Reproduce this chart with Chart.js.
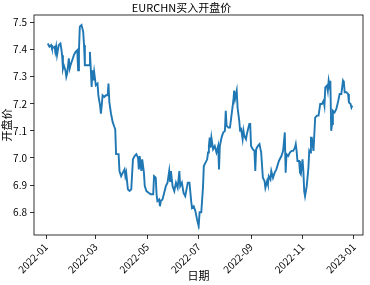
<!DOCTYPE html>
<html lang="zh">
<head>
    <meta charset="UTF-8">
    <title>EURCHN买入开盘价</title>
    <script src="https://cdn.jsdelivr.net/npm/chart.js"></script>
    <style>
        body {
            margin: 0;
            background-color: white;
        }
    </style>
</head>
<body>
    <canvas id="rateChart" width="370" height="285"></canvas>

    <script>
        // 日期: 2022-01-01 起的天数
        const days = [
            2, 4, 6, 7, 10, 11, 12, 13, 15, 17, 18, 19, 20, 21, 23, 24, 25, 27, 28, 29,
            31, 33, 35, 37, 38, 39, 40, 42, 44, 45, 46, 49, 51, 52, 53, 54, 55, 56, 57, 59,
            61, 62, 64, 65, 66, 67, 69, 71, 73, 74, 75, 77, 79, 81, 82, 83, 86, 87, 89, 91,
            93, 94, 95, 97, 99, 101, 103, 105, 107, 109, 110, 111, 113, 114, 116, 117, 119, 122, 124, 127,
            128, 130, 131, 132, 134, 135, 136, 138, 140, 142, 144, 146, 147, 148, 150, 152, 154, 156, 158, 159,
            161, 163, 165, 168, 170, 172, 173, 175, 177, 179, 180, 181, 182, 184, 186, 187, 189, 191, 192, 193,
            194, 195, 196, 198, 200, 202, 204, 205, 206, 208, 210, 212, 213, 214, 216, 218, 220, 222, 223, 224,
            226, 227, 229, 230, 231, 233, 234, 235, 237, 238, 239, 241, 242, 243, 245, 247, 248, 249, 251, 253,
            255, 257, 259, 260, 262, 263, 264, 266, 267, 269, 271, 273, 276, 279, 281, 283, 284, 285, 287, 289,
            291, 293, 295, 296, 297, 298, 300, 301, 302, 304, 305, 306, 307, 309, 311, 312, 313, 314, 315, 317,
            319, 321, 323, 325, 327, 329, 330, 331, 333, 334, 335, 336, 337, 338, 339, 340, 342, 344, 346, 348,
            350, 352, 353, 354, 356, 358, 359, 361, 362, 363
        ];
        const openPrice = [
            7.422, 7.410, 7.416, 7.404, 7.410, 7.391, 7.410, 7.379, 7.416, 7.422, 7.404, 7.379, 7.330, 7.342, 7.323, 7.299, 7.311, 7.367, 7.330, 7.342,
            7.360, 7.379, 7.391, 7.397, 7.323, 7.397, 7.484, 7.490, 7.466, 7.416, 7.342, 7.342, 7.342, 7.391, 7.330, 7.262, 7.323, 7.286, 7.317, 7.268,
            7.274, 7.231, 7.194, 7.163, 7.194, 7.231, 7.225, 7.231, 7.231, 7.274, 7.206, 7.163, 7.132, 7.114, 7.106, 7.014, 7.014, 6.952, 6.933, 6.946,
            6.958, 6.933, 6.946, 6.884, 6.878, 6.884, 6.995, 7.007, 7.014, 7.001, 6.958, 7.007, 6.952, 6.995, 6.946, 6.896, 6.878, 6.871, 6.866, 6.866,
            6.933, 6.927, 6.866, 6.841, 6.847, 6.822, 6.841, 6.847, 6.871, 6.896, 6.909, 6.952, 6.915, 6.952, 6.896, 6.878, 6.909, 6.890, 6.952, 6.896,
            6.909, 6.871, 6.859, 6.909, 6.909, 6.841, 6.816, 6.822, 6.804, 6.773, 6.760, 6.752, 6.800, 6.800, 6.890, 6.970, 6.983, 6.995, 7.020, 7.044,
            7.075, 7.038, 7.075, 7.032, 7.044, 7.020, 7.044, 6.958, 7.044, 7.075, 7.094, 7.100, 7.174, 7.119, 7.112, 7.112, 7.162, 7.211, 7.248, 7.217,
            7.248, 7.186, 7.137, 7.100, 7.112, 7.069, 7.100, 7.081, 7.069, 7.088, 7.100, 7.125, 7.125, 7.044, 7.032, 7.026, 6.952, 7.032, 7.044, 7.051,
            7.020, 6.927, 6.915, 6.890, 6.915, 6.903, 6.933, 6.921, 6.952, 6.927, 6.946, 6.958, 6.989, 7.007, 7.026, 7.094, 6.946, 7.014, 7.007, 7.020,
            7.026, 7.026, 7.038, 7.051, 7.026, 6.989, 6.989, 6.946, 6.940, 6.995, 6.952, 6.878, 6.859, 6.896, 6.964, 7.026, 7.020, 7.075, 7.075, 7.026,
            7.149, 7.156, 7.156, 7.199, 7.199, 7.211, 7.193, 7.260, 7.267, 7.248, 7.285, 7.267, 7.285, 7.100, 7.125, 7.174, 7.168, 7.180, 7.205, 7.236,
            7.236, 7.285, 7.279, 7.242, 7.242, 7.236, 7.205, 7.199, 7.186, 7.193
        ];
        const xTickDays = [0, 59, 120, 181, 243, 304, 365];
        const xTickLabels = ['2022-01', '2022-03', '2022-05', '2022-07', '2022-09', '2022-11', '2023-01'];
        const yTicks = [6.8, 6.9, 7.0, 7.1, 7.2, 7.3, 7.4, 7.5];

        const fontFamily = '"Noto Sans CJK SC", "DejaVu Sans", sans-serif';

        const framePlugin = {
            id: 'frame',
            afterDraw(chart) {
                const a = chart.chartArea;
                const ctx = chart.ctx;
                ctx.save();
                ctx.strokeStyle = '#000';
                ctx.lineWidth = 0.8;
                ctx.strokeRect(a.left, a.top, a.right - a.left, a.bottom - a.top);
                ctx.restore();
            }
        };

        const ctx = document.getElementById('rateChart').getContext('2d');
        new Chart(ctx, {
            type: 'line',
            data: {
                datasets: [{
                    label: '开盘价',
                    data: days.map((d, i) => ({ x: d, y: openPrice[i] })),
                    borderColor: '#1f77b4',
                    borderWidth: 1.9,
                    pointRadius: 0,
                    tension: 0,
                    fill: false
                }]
            },
            options: {
                responsive: false,
                animation: false,
                layout: { padding: { top: 0, right: 7, bottom: 0, left: 0 } },
                plugins: {
                    legend: { display: false },
                    tooltip: { enabled: false },
                    title: {
                        display: true,
                        text: 'EURCHN买入开盘价',
                        color: '#000',
                        font: { family: fontFamily, size: 11, weight: 'normal', lineHeight: 1 },
                        padding: { top: 2, bottom: 2 }
                    }
                },
                scales: {
                    x: {
                        type: 'linear',
                        min: -14.3,
                        max: 375.7,
                        afterFit(scale) { scale.height = 50; },
                        afterBuildTicks(scale) {
                            scale.ticks = xTickDays.map(v => ({ value: v }));
                        },
                        ticks: {
                            autoSkip: false,
                            minRotation: 45,
                            maxRotation: 45,
                            color: '#000',
                            padding: 2,
                            font: { family: fontFamily, size: 10 },
                            callback: (value) => xTickLabels[xTickDays.indexOf(value)]
                        },
                        grid: { drawOnChartArea: false, drawTicks: true, tickLength: 4, color: '#000', lineWidth: 0.8 },
                        border: { display: false },
                        title: {
                            display: true,
                            text: '日期',
                            color: '#000',
                            font: { family: fontFamily, size: 11 },
                            padding: { top: 0, bottom: 3 }
                        }
                    },
                    y: {
                        min: 6.716,
                        max: 7.527,
                        afterFit(scale) { scale.width = 34; },
                        afterBuildTicks(scale) {
                            scale.ticks = yTicks.map(v => ({ value: v }));
                        },
                        ticks: {
                            color: '#000',
                            padding: 3,
                            font: { family: fontFamily, size: 10 },
                            callback: (value) => value.toFixed(1)
                        },
                        grid: { drawOnChartArea: false, drawTicks: true, tickLength: 4, color: '#000', lineWidth: 0.8 },
                        border: { display: false },
                        title: {
                            display: true,
                            text: '开盘价',
                            color: '#000',
                            font: { family: fontFamily, size: 11 },
                            padding: { top: 0, bottom: 1 }
                        }
                    }
                }
            },
            plugins: [framePlugin]
        });
    </script>
</body>
</html>
